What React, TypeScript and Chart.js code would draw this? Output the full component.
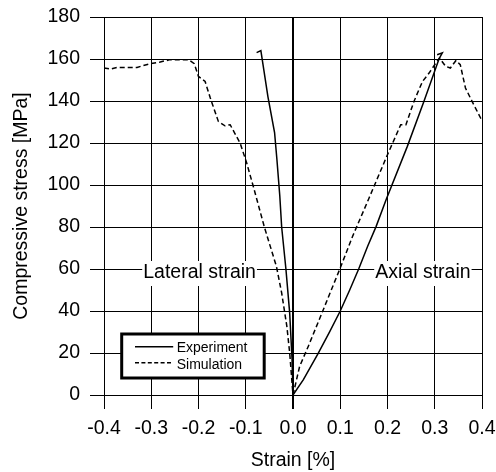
import { useEffect, useRef } from "react";
import { Chart, registerables } from "chart.js";

Chart.register(...registerables);

// Experiment, lateral strain (from origin upward, ending with the small hook)
const expLatStrain = [0, -0.002, -0.007, -0.015, -0.024, -0.028, -0.034, -0.039, -0.053, -0.068, -0.077];
const expLatStress = [0, 17, 39, 60, 80, 95, 112, 125, 142, 164, 163];

// Experiment, axial strain
const expAxStrain = [0, 0.022, 0.053, 0.078, 0.1, 0.12, 0.139, 0.158, 0.176, 0.197, 0.242, 0.277, 0.309, 0.316, 0.305];
const expAxStress = [0, 7.3, 19.7, 30.3, 40, 50, 60, 70.8, 80.3, 93, 118.4, 139.8, 160, 162.9, 162];

// Simulation, lateral strain
const simLatStrain = [-0.4, -0.386, -0.372, -0.33, -0.302, -0.281, -0.26, -0.221, -0.209, -0.2, -0.186, -0.175, -0.158, -0.144, -0.133, -0.112, -0.098, -0.084, -0.06, -0.035, -0.024, -0.013, -0.007, 0];
const simLatStress = [155.7, 155.2, 156, 156, 157.8, 158.6, 159.7, 159.7, 157.8, 151.7, 149.3, 141.4, 130.3, 128.2, 128.7, 120, 110.5, 99.3, 79.5, 61.2, 48.6, 32.7, 20, 0];

// Simulation, axial strain
const simAxStrain = [0, 0.014, 0.032, 0.063, 0.081, 0.1, 0.126, 0.161, 0.197, 0.228, 0.239, 0.256, 0.274, 0.288, 0.302, 0.31, 0.323, 0.333, 0.345, 0.354, 0.365, 0.379, 0.397, 0.4];
const simAxStress = [0, 13.6, 23, 40, 50, 60.5, 75.5, 93.8, 112.9, 128.7, 128.7, 139.8, 149.3, 153.3, 158, 160.5, 156.5, 155.7, 159.3, 157.3, 146.2, 139.8, 131.9, 130.5];

// Text labels inside the plot
const labelTexts = ["Lateral strain", "Axial strain"];
const labelStrain = [-0.317, 0.174];
const labelStress = [60, 60];

const legendNames = ["Experiment", "Simulation"];

const FONT = '"Liberation Sans", Arial, sans-serif';

const pts = (xs: number[], ys: number[]) => xs.map((x, i) => ({ x, y: ys[i] }));

const zeroPad = (s: any) => {
  s.paddingLeft = 0;
  s.paddingRight = 0;
  s.paddingTop = 0;
  s.paddingBottom = 0;
};

const overlayPlugin = {
  id: "overlay",
  afterDraw(chart: any) {
    const ctx: CanvasRenderingContext2D = chart.ctx;
    const xs = chart.scales.x;
    const ys = chart.scales.y;
    ctx.save();
    ctx.font = `19.5px ${FONT}`;
    ctx.textBaseline = "alphabetic";
    ctx.textAlign = "left";
    labelTexts.forEach((t, i) => {
      const px = xs.getPixelForValue(labelStrain[i]);
      const py = ys.getPixelForValue(labelStress[i]);
      const w = ctx.measureText(t).width;
      ctx.fillStyle = "#fff";
      ctx.fillRect(px - 1, py - 8, w + 2, 25);
      ctx.fillStyle = "#000";
      ctx.fillText(t, px, py + 9.4);
    });

    // legend box
    const ca = chart.chartArea;
    const bx = ca.left + 17.7;
    const by = ca.bottom - 61;
    const bw = 142.5;
    const bh = 44;
    ctx.fillStyle = "#fff";
    ctx.fillRect(bx, by, bw, bh);
    ctx.lineWidth = 3;
    ctx.strokeStyle = "#000";
    ctx.strokeRect(bx, by, bw, bh);

    ctx.lineWidth = 1.5;
    ctx.beginPath();
    ctx.moveTo(bx + 13.3, by + 12.7);
    ctx.lineTo(bx + 51.5, by + 12.7);
    ctx.stroke();
    ctx.setLineDash([4, 2.4]);
    ctx.beginPath();
    ctx.moveTo(bx + 13.3, by + 28.7);
    ctx.lineTo(bx + 51.5, by + 28.7);
    ctx.stroke();
    ctx.setLineDash([]);

    ctx.font = `14px ${FONT}`;
    ctx.fillStyle = "#000";
    ctx.fillText(legendNames[0], bx + 55, by + 18.3);
    ctx.fillText(legendNames[1], bx + 55, by + 34.6);
    ctx.restore();
  },
};

export default function App() {
  const ref = useRef<HTMLCanvasElement>(null);

  useEffect(() => {
    if (!ref.current) return;
    const solid = { borderColor: "#000", borderWidth: 1.5, pointRadius: 0, showLine: true, fill: false };
    const dashed = { ...solid, borderDash: [5, 3] };
    const chart = new Chart(ref.current, {
      type: "scatter",
      data: {
        datasets: [
          { label: "Experiment lateral", data: pts(expLatStrain, expLatStress), ...solid },
          { label: "Experiment axial", data: pts(expAxStrain, expAxStress), ...solid },
          { label: "Simulation lateral", data: pts(simLatStrain, simLatStress), ...dashed },
          { label: "Simulation axial", data: pts(simAxStrain, simAxStress), ...dashed },
        ],
      },
      options: {
        animation: false,
        responsive: false,
        devicePixelRatio: 1,
        layout: { autoPadding: false, padding: { left: 0, right: 14, top: 17, bottom: 0 } },
        plugins: { legend: { display: false }, tooltip: { enabled: false } },
        elements: { line: { tension: 0 } },
        scales: {
          x: {
            type: "linear",
            min: -0.4,
            max: 0.4,
            afterFit: (s: any) => {
              s.height = 77;
              zeroPad(s);
            },
            ticks: {
              stepSize: 0.1,
              color: "#000",
              padding: 8,
              font: { family: FONT, size: 19.5 },
              maxRotation: 0,
              callback: (v: any) => {
                const n = Number(v);
                return (Math.abs(n) < 1e-9 ? 0 : n).toFixed(1);
              },
            },
            grid: {
              color: "#000",
              lineWidth: (c: any) => (c.tick && Math.abs(c.tick.value) < 1e-9 ? 2 : 1),
              tickLength: 14,
              drawTicks: true,
            },
            border: { display: true, color: "#000", width: 1 },
            title: {
              display: true,
              text: "Strain [%]",
              color: "#000",
              font: { family: FONT, size: 19.5 },
              padding: { top: 0, bottom: 0 },
            },
          },
          y: {
            type: "linear",
            min: 0,
            max: 180,
            afterFit: (s: any) => {
              s.width = 104;
              zeroPad(s);
            },
            ticks: {
              stepSize: 20,
              color: "#000",
              padding: 10,
              font: { family: FONT, size: 19.5 },
            },
            grid: {
              color: "#000",
              lineWidth: 1,
              tickLength: 14,
              drawTicks: true,
            },
            border: { display: true, color: "#000", width: 1 },
            title: {
              display: true,
              text: "Compressive stress [MPa]",
              color: "#000",
              font: { family: FONT, size: 19.5 },
              padding: { top: 10, bottom: 0 },
            },
          },
        },
      },
      plugins: [overlayPlugin],
    });
    return () => chart.destroy();
  }, []);

  return (
    <div style={{ position: "fixed", left: 0, top: 0, width: 496, height: 472, background: "#fff" }}>
      <canvas ref={ref} width={496} height={472} style={{ display: "block", width: 496, height: 472 }} />
    </div>
  );
}
